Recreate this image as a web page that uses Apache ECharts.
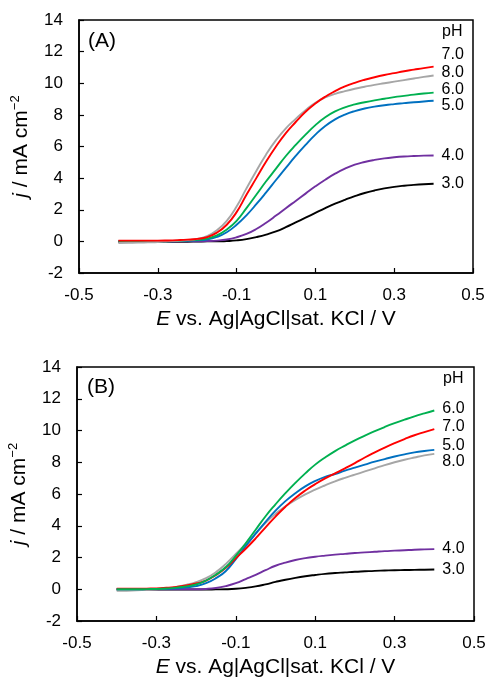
<!DOCTYPE html>
<html>
<head>
<meta charset="utf-8">
<script src="https://cdn.jsdelivr.net/npm/echarts@6/dist/echarts.min.js"></script>
<style>
html,body{margin:0;padding:0;background:#fff;}
#chart{width:489px;height:681px;}
</style>
</head>
<body>
<div id="chart"></div>
<script>
// Potential (V) grid shared by all curves
const E = [-0.4, -0.375, -0.35, -0.325, -0.3, -0.275, -0.25, -0.225, -0.2, -0.175, -0.15, -0.125, -0.1, -0.075, -0.05, -0.025,
           0, 0.025, 0.05, 0.075, 0.1, 0.125, 0.15, 0.175, 0.2, 0.225, 0.25, 0.275, 0.3, 0.325, 0.35, 0.375, 0.4];

// Panel A current density (mA cm^-2)
const A_pH7 = [0.05, 0.05, 0.05, 0.05, 0.05, 0.06, 0.08, 0.11, 0.16, 0.27, 0.55, 1.05, 1.85, 2.95, 4.0, 5.05,
               6.0, 6.85, 7.55, 8.2, 8.72, 9.15, 9.5, 9.8, 10.03, 10.22, 10.38, 10.52, 10.64, 10.76, 10.86, 10.96, 11.05];
const A_pH8 = [-0.1, -0.09, -0.08, -0.06, -0.04, 0.0, 0.04, 0.08, 0.16, 0.33, 0.7, 1.3, 2.2, 3.35, 4.45, 5.5,
               6.4, 7.15, 7.75, 8.3, 8.77, 9.1, 9.33, 9.5, 9.65, 9.78, 9.9, 10.0, 10.1, 10.2, 10.3, 10.4, 10.49];
const A_pH6 = [0.0, 0.0, 0.0, 0.0, 0.0, 0.01, 0.03, 0.06, 0.1, 0.18, 0.38, 0.75, 1.3, 2.1, 2.95, 3.8,
               4.6, 5.4, 6.1, 6.75, 7.35, 7.85, 8.22, 8.48, 8.66, 8.8, 8.92, 9.02, 9.12, 9.2, 9.28, 9.35, 9.41];
const A_pH5 = [0.0, 0.0, 0.0, 0.0, 0.0, 0.0, 0.02, 0.04, 0.07, 0.12, 0.28, 0.58, 1.05, 1.65, 2.35, 3.1,
               3.88, 4.65, 5.4, 6.1, 6.75, 7.3, 7.72, 8.02, 8.24, 8.4, 8.52, 8.61, 8.68, 8.74, 8.8, 8.85, 8.89];
const A_pH4 = [0.0, 0.0, 0.0, 0.0, 0.0, 0.0, 0.0, 0.0, 0.0, 0.02, 0.05, 0.12, 0.26, 0.47, 0.78, 1.18,
               1.63, 2.1, 2.56, 3.02, 3.48, 3.9, 4.28, 4.6, 4.85, 5.02, 5.15, 5.25, 5.32, 5.37, 5.4, 5.42, 5.43];
const A_pH3 = [-0.02, -0.02, -0.02, -0.02, -0.02, -0.02, -0.02, -0.02, -0.01, 0.0, 0.0, 0.02, 0.06, 0.14, 0.27, 0.43,
               0.63, 0.9, 1.2, 1.5, 1.8, 2.1, 2.38, 2.63, 2.86, 3.06, 3.22, 3.35, 3.45, 3.52, 3.57, 3.61, 3.64];

// Panel B current density (mA cm^-2)
const B_pH6 = [0.0, 0.0, 0.0, 0.01, 0.02, 0.05, 0.1, 0.18, 0.3, 0.55, 0.92, 1.4, 2.1, 2.9, 3.75, 4.6,
               5.35, 6.05, 6.7, 7.3, 7.85, 8.3, 8.7, 9.05, 9.38, 9.68, 9.96, 10.22, 10.46, 10.68, 10.89, 11.08, 11.26];
const B_pH7 = [0.03, 0.03, 0.03, 0.04, 0.05, 0.09, 0.15, 0.24, 0.36, 0.55, 0.9, 1.35, 1.95, 2.55, 3.2, 3.9,
               4.58, 5.2, 5.75, 6.22, 6.62, 6.98, 7.3, 7.62, 7.95, 8.3, 8.62, 8.92, 9.2, 9.46, 9.7, 9.9, 10.09];
const B_pH5 = [0.0, 0.0, 0.0, 0.01, 0.02, 0.03, 0.06, 0.12, 0.2, 0.38, 0.7, 1.15, 1.9, 2.72, 3.5, 4.25,
               4.95, 5.55, 6.05, 6.48, 6.82, 7.08, 7.26, 7.47, 7.66, 7.85, 8.04, 8.2, 8.36, 8.5, 8.62, 8.71, 8.78];
const B_pH8 = [-0.1, -0.09, -0.07, -0.04, 0.0, 0.06, 0.15, 0.28, 0.45, 0.7, 1.08, 1.6, 2.22, 2.85, 3.5, 4.18,
               4.75, 5.22, 5.62, 5.98, 6.28, 6.55, 6.8, 7.02, 7.22, 7.42, 7.62, 7.82, 8.0, 8.16, 8.3, 8.43, 8.53];
const B_pH4 = [0.0, 0.0, 0.0, 0.0, 0.0, 0.0, 0.0, 0.0, 0.0, 0.02, 0.08, 0.2, 0.38, 0.64, 0.9, 1.2,
               1.48, 1.68, 1.84, 1.96, 2.05, 2.12, 2.18, 2.23, 2.28, 2.32, 2.36, 2.4, 2.43, 2.46, 2.49, 2.51, 2.53];
const B_pH3 = [-0.02, -0.02, -0.02, -0.02, -0.02, -0.02, -0.02, -0.02, -0.02, -0.02, -0.01, 0.0, 0.03, 0.09, 0.18, 0.31,
               0.46, 0.6, 0.72, 0.82, 0.9, 0.97, 1.02, 1.06, 1.1, 1.13, 1.16, 1.18, 1.2, 1.21, 1.22, 1.23, 1.24];

// Axis ticks
const xMin = -0.5, xMax = 0.5, xStep = 0.2;
const yMin = -2, yMax = 14, yStep = 2;

const FONT = 'Arial, "Liberation Sans", sans-serif';

const COLORS = {'3.0':'#000000','4.0':'#7030a0','5.0':'#0070c0','6.0':'#00b050','7.0':'#ff0000','8.0':'#a6a6a6'};

function zip(xs, ys){ return xs.map((x,i)=>[x, ys[i]]); }

function mkSeries(label, ys, idx, dy){
  return {
    name: label + (idx===0?'A':'B'),
    type: 'line',
    xAxisIndex: idx, yAxisIndex: idx,
    data: zip(E, ys),
    smooth: 0.5,
    showSymbol: false,
    symbol: 'none',
    clip: true,
    lineStyle: {color: COLORS[label], width: 1.9},
    itemStyle: {color: COLORS[label]},
    emphasis: {disabled: true},
    endLabel: {
      show: true,
      formatter: label,
      color: '#000',
      fontFamily: FONT,
      fontSize: 16,
      distance: 8,
      offset: [0, dy]
    }
  };
}

function xAxis(idx){
  return {
    type: 'value', gridIndex: idx,
    min: xMin, max: xMax, interval: xStep,
    name: '{i|E} vs. Ag|AgCl|sat. KCl / V',
    nameLocation: 'middle', nameGap: 36,
    nameTextStyle: {color:'#000', fontFamily: FONT, fontSize: 21,
      rich: {i: {fontStyle:'italic', fontFamily: FONT, fontSize: 21, color:'#000'}}},
    axisLine: {show: true, onZero: false, lineStyle: {color:'#000', width: 1.5}},
    axisTick: {show: true, inside: true, length: 5, lineStyle: {color:'#000', width: 1.2}},
    axisLabel: {show: true, color:'#000', fontFamily: FONT, fontSize: 17, margin: 14,
      showMinLabel: true, showMaxLabel: true,
      formatter: v => (Math.round(v*10)/10).toFixed(1)},
    splitLine: {show: false}
  };
}
function yAxis(idx){
  return {
    type: 'value', gridIndex: idx,
    min: yMin, max: yMax, interval: yStep,
    name: '{i|j} / mA cm{s|\u22122}',
    nameLocation: 'middle', nameGap: 40,
    nameTextStyle: {color:'#000', fontFamily: FONT, fontSize: 21, lineHeight: 24,
      rich: {
        i: {fontStyle:'italic', fontFamily: FONT, fontSize: 21, color:'#000', lineHeight: 24},
        s: {fontFamily: FONT, fontSize: 13, color:'#000', lineHeight: 13, verticalAlign: 'top'}
      }},
    axisLine: {show: true, onZero: false, lineStyle: {color:'#000', width: 1.5}},
    axisTick: {show: true, inside: true, length: 5, lineStyle: {color:'#000', width: 1.2}},
    axisLabel: {show: true, color:'#000', fontFamily: FONT, fontSize: 17, margin: 16,
      showMinLabel: true, showMaxLabel: true},
    splitLine: {show: false}
  };
}

const chart = echarts.init(document.getElementById('chart'), null, {renderer: 'canvas'});
const option = {
  animation: false,
  backgroundColor: '#fff',
  textStyle: {fontFamily: FONT},
  grid: [
    {left: 79, right: 16, top: 20, height: 253, show: true, borderColor: '#000', borderWidth: 1.5, backgroundColor: 'transparent', containLabel: false, outerBoundsMode: 'none'},
    {left: 77, right: 15, top: 367, height: 254, show: true, borderColor: '#000', borderWidth: 1.5, backgroundColor: 'transparent', containLabel: false, outerBoundsMode: 'none'}
  ],
  xAxis: [xAxis(0), xAxis(1)],
  yAxis: [yAxis(0), yAxis(1)],
  graphic: [
    {type:'text', left: 88, top: 31, style: {text: '(A)', font: '21px ' + FONT, fill: '#000'}},
    {type:'text', left: 87, top: 377, style: {text: '(B)', font: '21px ' + FONT, fill: '#000'}},
    {type:'text', left: 442, top: 24, style: {text: 'pH', font: '16px ' + FONT, fill: '#000'}},
    {type:'text', left: 443, top: 371, style: {text: 'pH', font: '16px ' + FONT, fill: '#000'}}
  ],
  series: [
    mkSeries('3.0', A_pH3, 0, 0),
    mkSeries('4.0', A_pH4, 0, 0),
    mkSeries('5.0', A_pH5, 0, 5),
    mkSeries('6.0', A_pH6, 0, -3),
    mkSeries('8.0', A_pH8, 0, -3),
    mkSeries('7.0', A_pH7, 0, -12),
    mkSeries('3.0', B_pH3, 1, 0),
    mkSeries('4.0', B_pH4, 1, 0),
    mkSeries('8.0', B_pH8, 1, 8),
    mkSeries('5.0', B_pH5, 1, -4),
    mkSeries('7.0', B_pH7, 1, -2),
    mkSeries('6.0', B_pH6, 1, -1.5)
  ]
};
chart.setOption(option);
</script>
</body>
</html>
